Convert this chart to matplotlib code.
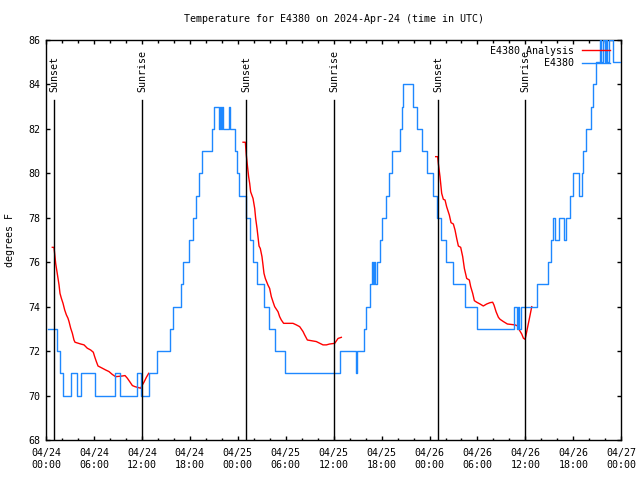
import pandas as pd
import matplotlib.pyplot as plt
import matplotlib.dates as mdates

plt.rcParams["font.family"] = ["DejaVu Sans Mono"]
plt.rcParams["font.size"] = 7.2

START = pd.Timestamp("2024-04-24 00:00")
END = pd.Timestamp("2024-04-27 00:00")

# station readings (hours after START, deg F), stepwise
obs_hours = [0.25, 1.35, 1.75, 2.15, 3.15, 3.85, 4.4, 6.15, 8.6, 9.2,
             11.45, 11.9, 12.9, 13.9, 15.5, 15.95, 16.95, 17.15, 17.9, 18.35,
             18.75, 19.1, 19.5, 20.75, 21.03, 21.6, 21.77, 21.87, 21.98, 22.15,
             22.9, 23.05, 23.6, 23.85, 24.2, 25.05, 25.58, 25.93, 26.45, 27.27,
             27.9, 28.72, 29.97, 36.85, 38.75, 38.95, 39.75, 40.1, 40.6, 40.85,
             40.95, 41.05, 41.15, 41.45, 41.75, 42.1, 42.6, 42.97, 43.26, 44.25,
             44.55, 44.72, 45.95, 46.45, 47.05, 47.68, 48.47, 48.93, 49.4, 50.0,
             50.95, 52.45, 53.95, 58.6, 58.95, 59.1, 59.2, 59.4, 61.4, 62.85,
             63.25, 63.5, 63.7, 64.15, 64.85, 65.1, 65.6, 65.95, 66.7, 67.1,
             67.25, 67.55, 68.15, 68.5, 68.8, 69.35, 69.5, 69.65, 69.9, 70.05,
             70.25, 70.5, 70.9, 72.0]
obs_temps = [73, 72, 71, 70, 71, 70, 71, 70, 71, 70,
             71, 70, 71, 72, 73, 74, 75, 76, 77, 78,
             79, 80, 81, 82, 83, 82, 83, 82, 83, 82,
             83, 82, 81, 80, 79, 78, 77, 76, 75, 74,
             73, 72, 71, 72, 71, 72, 73, 74, 75, 76,
             75, 76, 75, 76, 77, 78, 79, 80, 81, 82,
             83, 84, 83, 82, 81, 80, 79, 78, 77, 76,
             75, 74, 73, 74, 73, 74, 73, 74, 75, 76,
             77, 78, 77, 78, 77, 78, 79, 80, 79, 80,
             81, 82, 83, 84, 85, 86, 85, 86, 85, 86,
             85, 86, 85, 85]

# analysis curves, one per night
ana1_hours = [0.79, 1.0, 1.08, 1.21, 1.34, 1.5, 1.63, 1.75, 1.92, 2.13,
              2.34, 2.55, 2.75, 2.88, 3.09, 3.3, 3.5, 3.63, 4.34, 4.76,
              5.17, 5.59, 5.92, 6.09, 6.3, 6.51, 7.05, 7.47, 7.88, 8.3,
              8.72, 9.55, 9.89, 10.18, 10.47, 10.81, 11.14, 11.56, 11.85, 12.06,
              12.26, 12.56, 12.85]
ana1_temps = [76.67, 76.67, 76.4, 75.95, 75.65, 75.28, 74.98, 74.6, 74.38, 74.15,
              73.85, 73.63, 73.48, 73.33, 73.03, 72.8, 72.5, 72.4, 72.32, 72.28,
              72.13, 72.05, 71.95, 71.75, 71.53, 71.33, 71.23, 71.15, 71.08, 70.95,
              70.85, 70.88, 70.9, 70.78, 70.63, 70.45, 70.4, 70.36, 70.33, 70.48,
              70.6, 70.82, 71.0]

ana2_hours = [24.66, 24.95, 25.07, 25.2, 25.36, 25.49, 25.61, 25.91, 26.12, 26.24,
              26.41, 26.53, 26.66, 26.82, 27.03, 27.16, 27.28, 27.45, 27.78, 27.99,
              28.2, 28.41, 28.62, 29.04, 29.24, 29.45, 29.74, 30.91, 31.33, 31.75,
              32.17, 32.37, 32.71, 33.83, 34.67, 35.09, 35.5, 36.13, 36.55, 36.96]
ana2_temps = [81.4, 81.4, 80.82, 80.37, 79.85, 79.55, 79.17, 78.87, 78.42, 77.97,
              77.52, 77.15, 76.73, 76.62, 76.25, 75.87, 75.5, 75.27, 74.97, 74.82,
              74.45, 74.22, 74.0, 73.77, 73.55, 73.4, 73.25, 73.25, 73.18, 73.1,
              72.88, 72.73, 72.5, 72.43, 72.28, 72.28, 72.32, 72.35, 72.57, 72.62]

ana3_hours = [48.77, 49.02, 49.1, 49.31, 49.52, 49.73, 49.94, 50.14, 50.48, 50.69,
              50.98, 51.19, 51.4, 51.61, 51.9, 52.15, 52.36, 52.65, 52.98, 53.15,
              53.4, 53.61, 53.9, 54.32, 54.73, 55.15, 55.57, 55.9, 56.07, 56.33,
              56.62, 56.83, 57.24, 57.74, 58.7, 59.04, 59.24, 59.54, 59.75, 59.96,
              60.08, 60.25, 60.46, 60.71, 60.79]
ana3_temps = [80.75, 80.75, 80.45, 79.85, 79.1, 78.83, 78.8, 78.5, 78.12, 77.78,
              77.72, 77.45, 77.07, 76.73, 76.67, 76.25, 75.72, 75.27, 75.2, 74.9,
              74.6, 74.27, 74.2, 74.12, 74.03, 74.12, 74.18, 74.2, 74.07, 73.77,
              73.52, 73.43, 73.33, 73.22, 73.18, 73.13, 72.95, 72.77, 72.58, 72.53,
              72.73, 73.03, 73.4, 73.85, 74.0]

sunset_times = ["2024-04-24 01:03", "2024-04-25 01:04", "2024-04-26 01:05"]
sunrise_times = ["2024-04-24 12:03", "2024-04-25 12:02", "2024-04-26 12:00"]

red = "#ff0000"
blue = "#1e88ff"


def to_time(hours):
    return START + pd.to_timedelta(hours, unit="h")


fig = plt.figure(figsize=(6.4, 4.8), dpi=100)
ax = fig.add_axes([46 / 640, 40 / 480, 575.3 / 640, 400 / 480])

ana_line = None
for hrs, vals in [(ana1_hours, ana1_temps), (ana2_hours, ana2_temps), (ana3_hours, ana3_temps)]:
    ana_line, = ax.plot(to_time(hrs), vals, color=red, lw=1.0, zorder=2)
obs_line, = ax.step(to_time(obs_hours), obs_temps, where="post", color=blue, lw=1.0, zorder=3)

for label, times in [("Sunset", sunset_times), ("Sunrise", sunrise_times)]:
    for t in pd.to_datetime(times):
        ax.axvline(t, ymin=0, ymax=0.85, color="black", lw=1.0, zorder=4)
        ax.text(t, 0.87, label, transform=ax.get_xaxis_transform(), rotation=90,
                ha="center", va="bottom")

ax.set_xlim(START, END)
ax.set_ylim(68, 86)
ax.set_yticks(range(68, 87, 2))
ax.xaxis.set_major_locator(mdates.HourLocator(byhour=range(0, 24, 6)))
ax.xaxis.set_minor_locator(mdates.HourLocator(byhour=range(0, 24, 2)))
ax.xaxis.set_major_formatter(mdates.DateFormatter("%m/%d\n%H:%M"))
ax.tick_params(which="both", direction="in", top=True, right=True, width=1.0)
ax.tick_params(which="major", length=3.2)
ax.tick_params(which="minor", length=1.8)
ax.tick_params(axis="x", pad=6)
ax.tick_params(axis="y", pad=4)
for s in ax.spines.values():
    s.set_linewidth(1.0)

names = ["E4380 Analysis", "E4380"]
width = max(len(n) for n in names)
ax.legend([ana_line, obs_line], [n.rjust(width) for n in names],
          loc="upper right", bbox_to_anchor=(0.98, 0.986), frameon=False,
          markerfirst=False, handlelength=2.8, handletextpad=0.8,
          labelspacing=0.25, borderpad=0, borderaxespad=0)

fig.text((46 + 575.3 / 2) / 640, 1 - 19 / 480,
         "Temperature for E4380 on 2024-Apr-24 (time in UTC)", ha="center", va="center")
fig.text(10 / 640, 0.5, "degrees F", rotation=90, ha="center", va="center")

fig.savefig("out.png", dpi=100)
